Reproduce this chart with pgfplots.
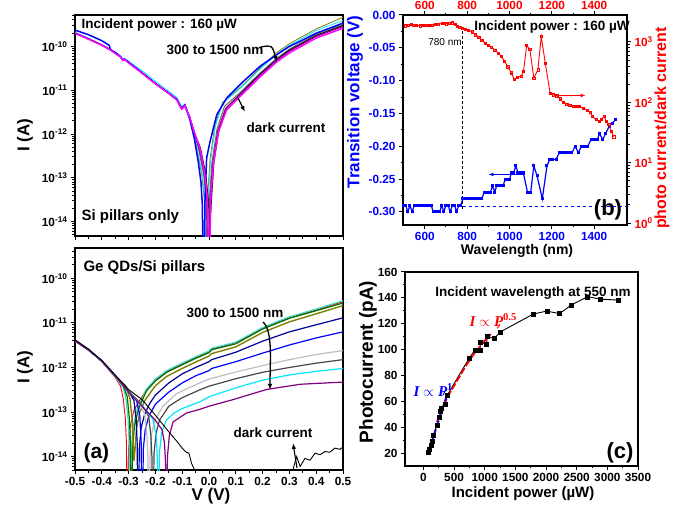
\documentclass[border=0pt]{standalone}
\usepackage{fontspec}
\setmainfont{Liberation Sans}
\newfontfamily\tnr{Liberation Serif}
\usepackage{pgfplots}
\pgfplotsset{compat=1.18}
\usetikzlibrary{arrows.meta}

\newcommand\fs[1]{\fontsize{#1}{#1}\selectfont\bfseries}
\newcommand\tickf{\fontsize{11.8}{12}\selectfont\bfseries}
\newcommand\logtick{10\textsuperscript{\pgfmathparse{int(round(\tick))}\pgfmathresult}}

\definecolor{cOlive}{RGB}{128,128,0}
\definecolor{cTeal}{RGB}{64,224,208}
\definecolor{cGreen}{RGB}{0,110,0}
\definecolor{cNavy}{RGB}{0,0,150}
\definecolor{cLGray}{RGB}{190,190,190}
\definecolor{cDGray}{RGB}{70,70,70}
\definecolor{cGray}{RGB}{110,110,110}
\definecolor{cPurple}{RGB}{128,0,128}
\definecolor{cMag}{RGB}{255,0,255}
\definecolor{cCyan}{RGB}{0,230,255}

\pgfkeys{/pgf/number format/assume math mode=true, /pgf/number format/1000 sep={}}

\pgfplotsset{
  myframe/.style={
    scale only axis,
    axis line style={line width=1.5pt},
    tick style={line width=1pt, black},
    tick align=outside,
    major tick length=4pt,
    minor tick length=2.5pt,
    tick label style={font=\tickf},
  },
}

\begin{document}
\begin{tikzpicture}
\useasboundingbox (0,0) rectangle (683pt,511pt);

% ---------- (a) top: Si pillars only ----------
\begin{axis}[myframe, at={(75pt,275pt)}, anchor=south west, width=268pt, height=221pt,
  xmin=-0.5, xmax=0.5, ymode=log, ymin=4.7e-15, ymax=5.2e-10,
  log basis y=10, tick pos=left,
  xtick={-0.5,-0.4,-0.3,-0.2,-0.1,0,0.1,0.2,0.3,0.4,0.5}, minor x tick num=1,
  xticklabels={}, yticklabel={\logtick}]
\addplot[cOlive, line width=0.8pt] coordinates {
(-0.5,2.05e-10) (-0.45,1.5e-10) (-0.4,1.08e-10) (-0.37,8.6e-11) (-0.33,5.8e-11) (-0.322,4.9e-11) (-0.315,5.1e-11) (-0.3,4.3e-11) (-0.25,2.5e-11) (-0.2,1.42e-11) (-0.15,8.5e-12) (-0.12,6.0e-12) (-0.102,3.8e-12) (-0.09,4.5e-12) (-0.072,2.4e-12)
(-0.055,1.0e-12) (-0.046,4.5e-13) (-0.027,1.2e-13) (-0.017,2.9e-14) (-0.012,1e-16) (-0.006,3e-14) (0.004,2.7e-13) (0.022,1.6e-12) (0.05,5.2e-12) (0.12,1.2e-11) (0.19,3.2e-11) (0.25,7e-11) (0.3,1.15e-10) (0.35,1.7e-10) (0.4,2.5e-10) (0.45,3.4e-10) (0.5,4.6e-10)};
\addplot[cCyan, line width=0.8pt] coordinates {
(-0.5,2.1e-10) (-0.45,1.55e-10) (-0.4,1.1e-10) (-0.37,8.8e-11) (-0.33,6.0e-11) (-0.322,5.1e-11) (-0.315,5.3e-11) (-0.3,4.6e-11) (-0.25,2.8e-11) (-0.2,1.6e-11) (-0.15,9.5e-12) (-0.12,6.8e-12) (-0.102,4.2e-12) (-0.09,4.8e-12) (-0.072,2.5e-12)
(-0.055,1.0e-12) (-0.044,4.5e-13) (-0.025,1.2e-13) (-0.015,2.9e-14) (-0.01,1e-16) (-0.004,3e-14) (0.006,2.5e-13) (0.024,1.5e-12) (0.05,5e-12) (0.12,1.15e-11) (0.19,3.0e-11) (0.25,6.4e-11) (0.3,1.05e-10) (0.35,1.55e-10) (0.4,2.3e-10) (0.45,3.0e-10) (0.5,3.9e-10)};
\addplot[cGray, line width=1pt] coordinates {
(-0.5,2.05e-10) (-0.45,1.5e-10) (-0.4,1.08e-10) (-0.37,8.6e-11) (-0.33,5.8e-11) (-0.322,4.9e-11) (-0.315,5.1e-11) (-0.3,4.3e-11) (-0.25,2.5e-11) (-0.2,1.42e-11) (-0.15,8.5e-12) (-0.12,6.0e-12) (-0.102,3.8e-12) (-0.09,4.5e-12) (-0.072,2.4e-12)
(-0.055,1.05e-12) (-0.039,4.5e-13) (-0.02,1.2e-13) (-0.01,2.9e-14) (-0.005,1e-16) (0.001,3e-14) (0.011,2.3e-13) (0.03,1.3e-12) (0.058,4.3e-12) (0.12,9.3e-12) (0.19,2.45e-11) (0.25,5.2e-11) (0.3,8.7e-11) (0.35,1.28e-10) (0.4,1.9e-10) (0.45,2.45e-10) (0.5,3.2e-10)};
\addplot[black, line width=1pt] coordinates {
(-0.5,2.0e-10) (-0.45,1.48e-10) (-0.4,1.07e-10) (-0.37,8.5e-11) (-0.33,5.8e-11) (-0.322,4.9e-11) (-0.315,5.1e-11) (-0.3,4.3e-11) (-0.25,2.5e-11) (-0.2,1.42e-11) (-0.15,8.5e-12) (-0.12,6.0e-12) (-0.102,3.8e-12) (-0.09,4.5e-12) (-0.072,2.4e-12)
(-0.055,1.1e-12) (-0.032,4.8e-13) (-0.012,1.2e-13) (-0.002,2.9e-14) (0.003,6.5e-15) (0.009,3e-14) (0.018,2.2e-13) (0.037,1.25e-12) (0.065,4e-12) (0.12,8.7e-12) (0.19,2.3e-11) (0.25,4.9e-11) (0.3,8.2e-11) (0.35,1.2e-10) (0.4,1.78e-10) (0.45,2.3e-10) (0.5,3.0e-10)};
\addplot[cPurple, line width=1.2pt] coordinates {
(-0.5,2.0e-10) (-0.45,1.48e-10) (-0.4,1.07e-10) (-0.37,8.5e-11) (-0.33,5.8e-11) (-0.322,4.9e-11) (-0.315,5.1e-11) (-0.3,4.3e-11) (-0.25,2.5e-11) (-0.2,1.42e-11) (-0.15,8.5e-12) (-0.12,6.0e-12) (-0.102,3.8e-12) (-0.09,4.5e-12) (-0.072,2.4e-12)
(-0.055,1.1e-12) (-0.036,4.6e-13) (-0.017,1.2e-13) (-0.007,2.9e-14) (-0.002,1e-16) (0.004,3e-14) (0.014,2.1e-13) (0.033,1.2e-12) (0.062,3.8e-12) (0.12,8.4e-12) (0.19,2.2e-11) (0.25,4.7e-11) (0.3,7.8e-11) (0.35,1.15e-10) (0.4,1.7e-10) (0.45,2.2e-10) (0.5,2.85e-10)};
\addplot[blue, line width=1.5pt] coordinates {
(-0.5,2.35e-10) (-0.45,1.85e-10) (-0.4,1.35e-10) (-0.372,1.05e-10) (-0.368,8.4e-11) (-0.35,7.3e-11) (-0.33,5.8e-11) (-0.322,4.9e-11) (-0.315,5.1e-11) (-0.3,4.3e-11) (-0.25,2.5e-11) (-0.2,1.42e-11) (-0.15,8.5e-12) (-0.12,6.2e-12) (-0.102,3.8e-12) (-0.09,4.6e-12) (-0.072,2.2e-12)
(-0.055,8e-13) (-0.04,2.3e-13) (-0.03,8e-14) (-0.025,2.5e-14) (-0.02,1e-16) (-0.015,3e-14) (-0.009,2.8e-13) (0.004,6.8e-13) (0.029,2.75e-12) (0.066,6.6e-12) (0.128,1.58e-11) (0.19,3.5e-11) (0.25,6.3e-11) (0.3,1.0e-10) (0.35,1.4e-10) (0.4,2.0e-10) (0.45,2.6e-10) (0.5,3.4e-10)};
\addplot[cMag, line width=1.5pt] coordinates {
(-0.5,2.0e-10) (-0.45,1.46e-10) (-0.4,1.06e-10) (-0.37,8.4e-11) (-0.33,5.7e-11) (-0.322,4.8e-11) (-0.315,5.0e-11) (-0.3,4.2e-11) (-0.25,2.45e-11) (-0.2,1.4e-11) (-0.15,8.4e-12) (-0.12,6.0e-12) (-0.102,3.7e-12) (-0.09,4.4e-12) (-0.072,2.4e-12)
(-0.055,1.1e-12) (-0.034,4.8e-13) (-0.015,1.2e-13) (-0.005,2.9e-14) (0.0,1e-16) (0.006,2.9e-14) (0.016,2e-13) (0.035,1.1e-12) (0.065,3.5e-12) (0.12,7.6e-12) (0.19,2.0e-11) (0.25,4.3e-11) (0.3,7.1e-11) (0.35,1.05e-10) (0.4,1.55e-10) (0.45,2.0e-10) (0.5,2.6e-10)};
\end{axis}

% ---------- (a) bottom: Ge QDs/Si pillars ----------
\begin{axis}[myframe, at={(75pt,41pt)}, anchor=south west, width=268pt, height=222pt,
  xmin=-0.5, xmax=0.5, ymode=log, ymin=5e-15, ymax=4.8e-10,
  log basis y=10, tick pos=left,
  xtick={-0.5,-0.4,-0.3,-0.2,-0.1,0,0.1,0.2,0.3,0.4,0.5}, minor x tick num=1,
  xticklabels={-0.5,-0.4,-0.3,-0.2,-0.1,0.0,0.1,0.2,0.3,0.4,0.5}, yticklabel={\logtick}]
\addplot[red, line width=0.9pt] coordinates {
(-0.5,4.0e-12) (-0.45,2.5e-12) (-0.4,1.35e-12) (-0.35,6.0e-13) (-0.33,3.8e-13) (-0.32,2.0e-13) (-0.312,7e-14) (-0.308,2e-14) (-0.305,1e-16) (-0.3,1.5e-14) (-0.293,5e-14) (-0.28,1.1e-13) (-0.258,1.86e-13) (-0.233,3.16e-13) (-0.2,5.2e-13) (-0.158,8.1e-13) (-0.1,1.2e-12) (-0.05,1.66e-12) (0.0,2.24e-12) (0.01,2.6e-12) (0.1,3.6e-12) (0.2,7.6e-12) (0.3,1.3e-11) (0.4,1.95e-11) (0.5,3.0e-11)};
\addplot[cTeal, line width=1.2pt] coordinates {
(-0.5,4.1e-12) (-0.45,2.55e-12) (-0.4,1.38e-12) (-0.35,6.2e-13) (-0.32,3.5e-13) (-0.31,2.0e-13) (-0.302,7e-14) (-0.298,2e-14) (-0.295,1e-16) (-0.29,1.5e-14) (-0.283,5e-14) (-0.27,1.1e-13) (-0.25,2.0e-13) (-0.233,3.3e-13) (-0.2,5.5e-13) (-0.158,8.5e-13) (-0.1,1.26e-12) (-0.05,1.74e-12) (0.0,2.34e-12) (0.01,2.7e-12) (0.1,3.7e-12) (0.2,7.9e-12) (0.3,1.38e-11) (0.4,2.05e-11) (0.5,3.16e-11)};
\addplot[cGreen, line width=1.2pt] coordinates {
(-0.5,4.0e-12) (-0.45,2.5e-12) (-0.4,1.38e-12) (-0.35,6.3e-13) (-0.32,4.0e-13) (-0.305,2.2e-13) (-0.297,7e-14) (-0.293,2e-14) (-0.29,1e-16) (-0.285,1.5e-14) (-0.278,5e-14) (-0.265,1.05e-13) (-0.25,1.8e-13) (-0.233,3.0e-13) (-0.2,5.0e-13) (-0.158,7.8e-13) (-0.1,1.15e-12) (-0.05,1.6e-12) (0.0,2.15e-12) (0.01,2.5e-12) (0.1,3.4e-12) (0.2,7.3e-12) (0.3,1.27e-11) (0.4,1.88e-11) (0.5,2.8e-11)};
\addplot[cOlive, line width=1.4pt] coordinates {
(-0.5,3.9e-12) (-0.45,2.45e-12) (-0.4,1.38e-12) (-0.35,6.4e-13) (-0.31,3.8e-13) (-0.295,2.0e-13) (-0.287,7e-14) (-0.283,2e-14) (-0.28,8e-15) (-0.276,1.5e-14) (-0.27,4.5e-14) (-0.258,1.0e-13) (-0.24,1.8e-13) (-0.2,3.9e-13) (-0.158,6.3e-13) (-0.1,9.5e-13) (-0.05,1.32e-12) (0.0,1.8e-12) (0.01,2.05e-12) (0.1,2.9e-12) (0.2,6.1e-12) (0.3,1.06e-11) (0.4,1.6e-11) (0.5,2.45e-11)};
\addplot[cNavy, line width=1.2pt] coordinates {
(-0.5,4.0e-12) (-0.45,2.5e-12) (-0.4,1.4e-12) (-0.35,6.5e-13) (-0.3,3.0e-13) (-0.28,1.8e-13) (-0.272,7e-14) (-0.268,2e-14) (-0.265,1e-16) (-0.26,1.5e-14) (-0.253,4.5e-14) (-0.24,9e-14) (-0.22,1.6e-13) (-0.2,2.4e-13) (-0.15,4.5e-13) (-0.1,7.2e-13) (-0.05,1.0e-12) (0.0,1.35e-12) (0.01,1.5e-12) (0.1,2.2e-12) (0.2,3.9e-12) (0.3,6.3e-12) (0.4,9.1e-12) (0.5,1.3e-11)};
\addplot[blue, line width=1.2pt] coordinates {
(-0.5,4.0e-12) (-0.45,2.5e-12) (-0.4,1.4e-12) (-0.35,6.5e-13) (-0.3,2.9e-13) (-0.27,1.8e-13) (-0.258,8e-14) (-0.253,2e-14) (-0.25,1e-16) (-0.245,1.5e-14) (-0.238,4e-14) (-0.225,8e-14) (-0.2,1.5e-13) (-0.15,2.8e-13) (-0.1,4.5e-13) (-0.05,6.5e-13) (0.0,8.5e-13) (0.01,9.5e-13) (0.1,1.35e-12) (0.2,2.1e-12) (0.3,3.2e-12) (0.4,4.6e-12) (0.5,6.3e-12)};
\addplot[cLGray, line width=1.2pt] coordinates {
(-0.5,4.0e-12) (-0.45,2.5e-12) (-0.4,1.4e-12) (-0.35,6.5e-13) (-0.3,2.9e-13) (-0.26,1.6e-13) (-0.24,9e-14) (-0.232,3e-14) (-0.228,1e-14) (-0.225,1e-16) (-0.22,1.2e-14) (-0.213,3.5e-14) (-0.2,7e-14) (-0.17,1.4e-13) (-0.12,2.6e-13) (-0.08,3.4e-13) (-0.034,4.5e-13) (0.0,5.5e-13) (0.1,7.9e-13) (0.2,1.1e-12) (0.3,1.5e-12) (0.4,1.95e-12) (0.5,2.4e-12)};
\addplot[cDGray, line width=1.2pt] coordinates {
(-0.5,4.0e-12) (-0.45,2.5e-12) (-0.4,1.4e-12) (-0.35,6.5e-13) (-0.3,2.9e-13) (-0.25,1.45e-13) (-0.225,8e-14) (-0.217,3e-14) (-0.213,1e-14) (-0.21,1e-16) (-0.205,1.2e-14) (-0.198,3.2e-14) (-0.185,6.5e-14) (-0.15,1.35e-13) (-0.1,2.1e-13) (-0.034,3.16e-13) (0.0,3.8e-13) (0.1,5.6e-13) (0.2,7.8e-13) (0.3,1.0e-12) (0.4,1.25e-12) (0.5,1.5e-12)};
\addplot[cCyan, line width=1.2pt] coordinates {
(-0.5,4.0e-12) (-0.45,2.5e-12) (-0.4,1.4e-12) (-0.35,6.5e-13) (-0.3,2.8e-13) (-0.25,1.4e-13) (-0.21,7e-14) (-0.197,3e-14) (-0.193,1e-14) (-0.19,1e-16) (-0.185,1.2e-14) (-0.177,3.4e-14) (-0.16,6.5e-14) (-0.13,9.5e-14) (-0.1,1.2e-13) (-0.034,1.7e-13) (0.0,2.2e-13) (0.1,3.5e-13) (0.2,5.2e-13) (0.3,6.8e-13) (0.4,8.2e-13) (0.5,9.5e-13)};
\addplot[cPurple, line width=1.2pt] coordinates {
(-0.5,4.0e-12) (-0.45,2.5e-12) (-0.4,1.4e-12) (-0.35,6.5e-13) (-0.3,2.8e-13) (-0.25,1.35e-13) (-0.2,6.5e-14) (-0.175,4e-14) (-0.166,2e-14) (-0.162,7e-15) (-0.16,1e-16) (-0.155,1e-14) (-0.148,3e-14) (-0.134,6e-14) (-0.084,9.5e-14) (-0.034,1.15e-13) (0.0,1.35e-13) (0.09,1.9e-13) (0.214,3.2e-13) (0.34,4.2e-13) (0.5,4.7e-13)};
% dark current
\addplot[black, line width=0.9pt] coordinates {
(-0.5,4.2e-12) (-0.45,2.6e-12) (-0.4,1.45e-12) (-0.35,6.8e-13) (-0.3,3.2e-13) (-0.25,1.9e-13) (-0.2,8.5e-14) (-0.15,3.6e-14) (-0.12,2.2e-14) (-0.1,1.55e-14) (-0.085,1.25e-14) (-0.075,1.2e-14) (-0.065,7e-15) (-0.05,4.5e-15) (-0.045,1e-16)};
\addplot[black, line width=0.9pt] coordinates {
(0.31,1e-16) (0.315,5.6e-15) (0.327,1.0e-14) (0.34,6e-15) (0.358,9.1e-15) (0.377,8.3e-15) (0.396,1.2e-14) (0.414,1.1e-14) (0.433,1.3e-14) (0.45,1.25e-14) (0.47,1.55e-14) (0.489,1.45e-14) (0.5,1.65e-14)};
\end{axis}

% ---------- (b) transition voltage ----------
\begin{axis}[myframe, at={(403pt,286pt)}, anchor=south west, width=224pt, height=210pt,
  xmin=497, xmax=1555, ymin=-0.32, ymax=0,
  tick pos=left,
  xtick={600,800,1000,1200,1400}, minor x tick num=1,
  ytick={-0.3,-0.25,-0.2,-0.15,-0.1,-0.05,0}, minor y tick num=1,
  xticklabel style={blue},
  yticklabel style={blue, /pgf/number format/.cd, fixed, fixed zerofill, precision=2}]
\addplot[blue, line width=0.8pt, dashed] coordinates {(780,-0.292) (1555,-0.292)};
\addplot[black, line width=1pt, densely dashed] coordinates {(780,-0.024) (780,-0.295)};
\addplot[blue, line width=1.2pt, mark=square*, mark size=0.9pt] coordinates {
(500,-0.29) (510,-0.29) (520,-0.30) (530,-0.29) (540,-0.30) (550,-0.29) (560,-0.29) (570,-0.29) (580,-0.29) (590,-0.29) (600,-0.29) (610,-0.29) (620,-0.29) (630,-0.29) (640,-0.30) (650,-0.30) (660,-0.30) (670,-0.30) (680,-0.29) (690,-0.30) (700,-0.29) (710,-0.29) (720,-0.30) (730,-0.29) (740,-0.29) (750,-0.30) (760,-0.29) (770,-0.29)
(780,-0.28) (790,-0.28) (800,-0.28) (810,-0.28) (820,-0.28) (830,-0.28) (840,-0.28) (850,-0.28) (860,-0.28) (870,-0.28) (880,-0.27) (890,-0.27) (900,-0.27) (910,-0.27) (920,-0.26) (930,-0.27) (940,-0.26) (950,-0.26) (960,-0.26) (970,-0.26) (980,-0.25) (990,-0.25) (1000,-0.25) (1010,-0.24) (1020,-0.24) (1030,-0.23) (1040,-0.24) (1050,-0.24) (1065,-0.24) (1085,-0.27) (1100,-0.27) (1115,-0.23) (1130,-0.245) (1155,-0.28) (1177,-0.23) (1190,-0.22) (1205,-0.22) (1220,-0.22) (1235,-0.21) (1250,-0.21) (1265,-0.21) (1280,-0.21) (1295,-0.21) (1310,-0.20) (1325,-0.21) (1340,-0.20) (1355,-0.20) (1370,-0.20) (1385,-0.19) (1400,-0.19) (1415,-0.19) (1425,-0.18) (1440,-0.19) (1455,-0.18) (1470,-0.17) (1485,-0.165) (1500,-0.16)};
\draw[blue, line width=1.2pt, -{Latex[length=5pt]}] (axis cs:1075,-0.243) -- (axis cs:900,-0.243);
\end{axis}
\begin{axis}[myframe, at={(403pt,286pt)}, anchor=south west, width=224pt, height=210pt,
  xmin=497, xmax=1555, ymode=log, ymin=0.93, ymax=2800, log basis y=10,
  axis x line*=top, axis y line*=right,
  xtick={600,800,1000,1200,1400}, minor x tick num=1,
  xticklabel style={red, yshift=-2.5pt}, yticklabel style={red}, yticklabel={\logtick}]
\addplot[red, line width=0.9pt, mark=square, mark size=1.1pt, mark options={line width=0.5pt}] coordinates {
(508,1860) (520,1900) (535,1950) (546,1905) (560,1880) (577,1860) (590,1880) (605,1900) (620,1880) (637,1905) (650,1950) (665,1980) (685,2040) (700,2000) (715,2060) (731,2090) (745,1950) (754,1820) (765,1760) (777,1700) (790,1620) (805,1560) (823,1480) (840,1320) (855,1200) (869,1070) (885,960) (900,890) (915,830) (930,740) (945,660) (962,575) (977,480) (992,390) (1008,310) (1023,240) (1038,262) (1054,269) (1066,324) (1081,870) (1096,760) (1115,251) (1134,347) (1150,1230) (1169,447) (1192,141) (1207,134) (1223,129) (1238,115) (1254,100) (1270,94) (1285,90) (1300,87) (1315,86) (1331,85) (1350,80) (1369,74) (1380,68) (1392,58) (1408,52) (1423,48) (1435,52) (1446,59) (1458,48) (1469,43) (1480,33) (1492,27)};
\draw[red, line width=1.2pt, -{Latex[length=5pt]}] (axis cs:1215,130) -- (axis cs:1360,130);
\end{axis}

% ---------- (c) photocurrent vs power ----------
\begin{axis}[myframe, at={(405pt,45pt)}, anchor=south west, width=233pt, height=194pt,
  xmin=-300, xmax=3500, ymin=10, ymax=160, tick pos=left,
  xtick={0,500,...,3500}, ytick={20,40,...,160},
  minor x tick num=1, minor y tick num=1]
\addplot[black, line width=0.9pt] coordinates {
(84,20.8) (100,23) (120,26) (138,28.8) (164,34) (217,41.7) (259,48) (280,52) (296,54.5) (349,58) (392,65) (746,93.3) (841,99.7) (921,99.7) (931,106) (1021,104) (1048,110) (1154,108.6) (1259,113.8) (1794,127.5) (2011,129.8) (2222,127.8) (2413,134.5) (2677,140.9) (2889,139) (3170,138.3)};
\addplot[red, line width=1.8pt, dash pattern=on 7pt off 2pt] coordinates {
(220,44) (300,53) (400,64) (500,72) (600,80) (700,88) (800,95) (900,101) (1000,107) (1100,112)};
\addplot[blue, line width=1.8pt, dash pattern=on 7pt off 2pt] coordinates {(80,20) (370,63)};
\addplot[only marks, black, mark=square*, mark size=2pt] coordinates {
(84,20.8) (100,23) (120,26) (138,28.8) (164,34) (217,41.7) (259,48) (280,52) (296,54.5) (349,58) (392,65) (746,93.3) (841,99.7) (921,99.7) (931,106) (1021,104) (1048,110) (1154,108.6) (1259,113.8) (1794,127.5) (2011,129.8) (2222,127.8) (2413,134.5) (2677,140.9) (2889,139) (3170,138.3)};
\draw[red, line width=1pt] (axis cs:1206,116.5) -- (axis cs:1249,119.5);
\draw[blue, line width=1pt] (axis cs:323,65) -- (axis cs:349,67.5);
\end{axis}

% ---------- texts ----------
\node[anchor=west] at (78pt,486pt) {\fs{13.5}Incident power : 160 µW};
\node[anchor=west] at (163pt,461pt) {\fs{13.5}300 to 1500 nm};
\node[anchor=west] at (243pt,383pt) {\fs{13.5}dark current};
\node[anchor=west] at (78pt,294pt) {\fs{15}Si pillars only};
\draw[line width=1.3pt, -{Latex[length=6pt]}] (261pt,464pt) .. controls (272pt,466pt) .. (277pt,449pt);
\draw[line width=1.3pt, -{Latex[length=6pt]}] (238pt,413pt) -- (245pt,399pt);
\node[rotate=90] at (25pt,376pt) {\fs{17}I (A)};

\node[anchor=west] at (80pt,243pt) {\fs{15}Ge QDs/Si pillars};
\node[anchor=west] at (183pt,198pt) {\fs{13.5}300 to 1500 nm};
\node[anchor=west] at (230pt,78pt) {\fs{13.5}dark current};
\node[anchor=west] at (80pt,58pt) {\fs{21}(a)};
\draw[line width=1.3pt, -{Latex[length=6pt]}] (263pt,189pt) .. controls (273pt,180pt) and (270pt,150pt) .. (270pt,121pt);
\draw[line width=1.1pt, -{Latex[length=6pt]}] (297pt,43pt) -- (293pt,68pt);
\node[rotate=90] at (25pt,144pt) {\fs{17}I (A)};
\node at (211pt,14.5pt) {\fs{17}V (V)};

\node at (445pt,469pt) {\fontsize{10}{10}\selectfont 780 nm};
\node at (552pt,484pt) {\fs{13.5}Incident power : 160 µW};
\node at (608pt,301pt) {\fs{22}(b)};
\node[rotate=90, blue] at (355pt,409pt) {\fs{17}Transition voltage (V)};
\node[rotate=90, red] at (662pt,383pt) {\fs{16}photo current/dark current};
\node at (517pt,260pt) {\fs{14}Wavelength (nm)};

\node at (533pt,218pt) {\fs{13.5}Incident wavelength at 550 nm};
\node[anchor=west, red] at (466pt,191pt) {\fontsize{15}{15}\selectfont\tnr\bfseries\itshape I $\propto$ P\textsuperscript{\upshape 0.5}};
\node[anchor=west, blue] at (410pt,121pt) {\fontsize{15}{15}\selectfont\tnr\bfseries\itshape I $\propto$ P\textsuperscript{\upshape 1}};
\node at (620pt,58pt) {\fs{22}(c)};
\node[rotate=90] at (368pt,149pt) {\fs{19}Photocurrent (pA)};
\node at (523pt,17pt) {\fs{15}Incident power (µW)};
\end{tikzpicture}
\end{document}
